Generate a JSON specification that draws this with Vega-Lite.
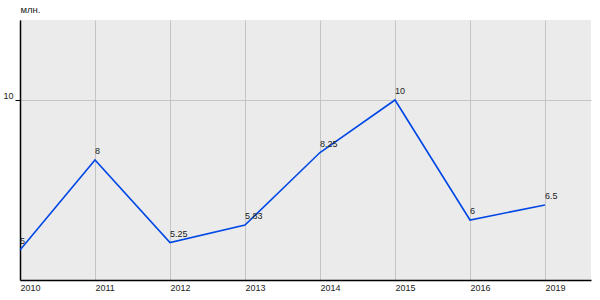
{
  "$schema": "https://vega.github.io/schema/vega-lite/v6.json",
  "width": 571,
  "height": 260,
  "autosize": "none",
  "padding": {"left": 20, "top": 20, "right": 9, "bottom": 20},
  "background": "white",
  "config": {
    "view": {"fill": "#ebebeb", "stroke": null},
    "font": "Liberation Sans"
  },
  "data": {
    "values": [
      {"year": "2010", "value": 5, "label": "5"},
      {"year": "2011", "value": 8, "label": "8"},
      {"year": "2012", "value": 5.25, "label": "5.25"},
      {"year": "2013", "value": 5.83, "label": "5.83"},
      {"year": "2014", "value": 8.25, "label": "8.25"},
      {"year": "2015", "value": 10, "label": "10"},
      {"year": "2016", "value": 6, "label": "6"},
      {"year": "2019", "value": 6.5, "label": "6.5"}
    ]
  },
  "encoding": {
    "x": {
      "field": "year",
      "type": "ordinal",
      "sort": null,
      "scale": {"type": "point", "padding": 0.3067, "align": 0},
      "axis": {
        "title": null,
        "labelAngle": 0,
        "labelAlign": "left",
        "labelFontSize": 9,
        "labelColor": "#222",
        "labelPadding": 3,
        "ticks": false,
        "domainColor": "#000",
        "domainWidth": 1.5,
        "grid": true,
        "gridColor": "#c4c4c4",
        "gridWidth": 1
      }
    },
    "y": {
      "field": "value",
      "type": "quantitative",
      "scale": {"domain": [4, 12.667], "nice": false, "zero": false},
      "axis": {
        "title": "млн.",
        "titleAngle": 0,
        "titleAlign": "left",
        "titleBaseline": "bottom",
        "titleX": 0,
        "titleY": -6,
        "titleFontSize": 9.5,
        "titleFontWeight": "normal",
        "titleColor": "#222",
        "values": [10],
        "labelFontSize": 9,
        "labelColor": "#222",
        "labelPadding": 2,
        "labelBaseline": "bottom",
        "tickColor": "#000",
        "tickSize": 5,
        "domainColor": "#000",
        "domainWidth": 1.5,
        "grid": true,
        "gridColor": "#c4c4c4"
      }
    }
  },
  "layer": [
    {
      "mark": {"type": "line", "color": "#0048e6", "strokeWidth": 1.6}
    },
    {
      "mark": {"type": "text", "align": "left", "baseline": "bottom", "dy": -4, "fontSize": 9, "color": "#222"},
      "encoding": {"text": {"field": "label"}}
    }
  ]
}
